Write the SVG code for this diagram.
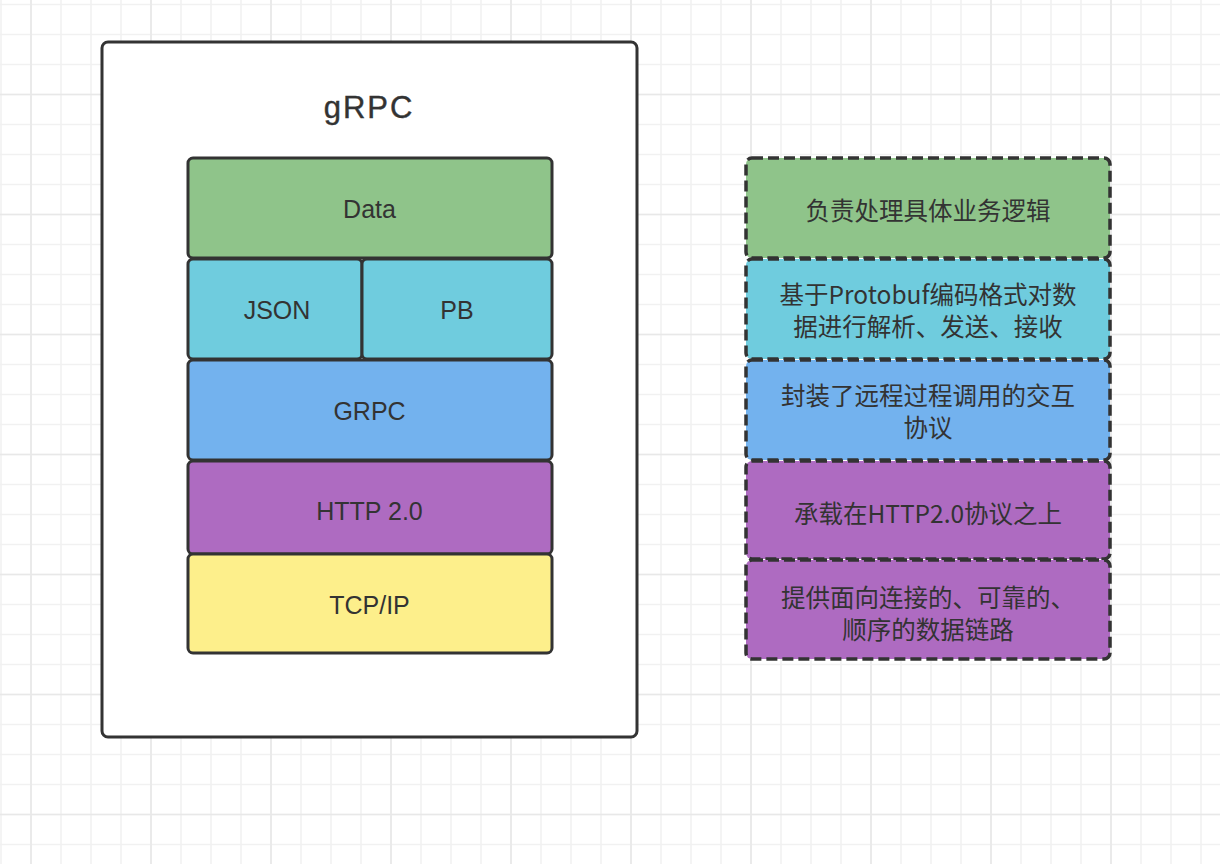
<svg xmlns="http://www.w3.org/2000/svg" width="1220" height="864" viewBox="0 0 1220 864">
  <defs>
    <pattern id="gMinor" width="30" height="30" patternUnits="userSpaceOnUse">
      <path d="M1 0V30M0 4.5H30" stroke="#f1f1f1" stroke-width="1.5" fill="none"/>
    </pattern>
    <pattern id="gMajor" width="120" height="120" patternUnits="userSpaceOnUse">
      <path d="M31 0V120M0 94.5H120" stroke="#e8e8e8" stroke-width="1.5" fill="none"/>
    </pattern>
  </defs>
  <style>
    .box { stroke: #333333; stroke-width: 3; }
    .dash { stroke: #333333; stroke-width: 3.5; stroke-dasharray: 11 5; }
    .green { fill: #8fc48a; }
    .cyan { fill: #6fccde; }
    .blue { fill: #73b2ee; }
    .purple { fill: #ae6bc1; }
    .yellow { fill: #fdef8b; }
    .lbl { font-family: "Liberation Sans", "Noto Sans CJK SC", sans-serif; font-size: 25px; fill: #333333; text-anchor: middle; dominant-baseline: central; }
    .cjk { font-family: "Noto Sans CJK SC", "Liberation Sans", sans-serif; font-size: 24.5px; fill: #333333; text-anchor: middle; dominant-baseline: central; }
    .title { font-family: "Liberation Sans", sans-serif; font-size: 31px; fill: #333333; text-anchor: middle; letter-spacing: 2px; stroke: #333333; stroke-width: 0.4; }
  </style>
  <rect width="1220" height="864" fill="#ffffff"/>
  <rect width="1220" height="864" fill="url(#gMinor)"/>
  <rect width="1220" height="864" fill="url(#gMajor)"/>

  <g id="grpc-container">
    <rect x="102" y="42" width="535" height="695" rx="6" fill="#ffffff" class="box"/>
    <text x="369" y="118" class="title">gRPC</text>
  </g>

  <g id="data">
    <rect x="188" y="158" width="364" height="100" rx="5" class="box green"/>
    <text x="369.5" y="209" class="lbl">Data</text>
  </g>
  <g id="json">
    <rect x="188" y="259" width="174" height="100" rx="5" class="box cyan"/>
    <text x="277" y="310" class="lbl">JSON</text>
  </g>
  <g id="pb">
    <rect x="362" y="259" width="190" height="100" rx="5" class="box cyan"/>
    <text x="457" y="310" class="lbl">PB</text>
  </g>
  <g id="grpc">
    <rect x="188" y="360" width="364" height="100" rx="5" class="box blue"/>
    <text x="369.5" y="411" class="lbl">GRPC</text>
  </g>
  <g id="http2">
    <rect x="188" y="461" width="364" height="93" rx="5" class="box purple"/>
    <text x="369.5" y="511" class="lbl">HTTP 2.0</text>
  </g>
  <g id="tcpip">
    <rect x="188" y="554" width="364" height="99" rx="5" class="box yellow"/>
    <text x="369.5" y="605" class="lbl">TCP/IP</text>
  </g>

  <g id="desc-data">
    <rect x="746" y="158" width="364" height="100" rx="6" class="dash green"/>
    <text x="928" y="209" class="cjk">负责处理具体业务逻辑</text>
  </g>
  <g id="desc-codec">
    <rect x="746" y="259" width="364" height="100" rx="6" class="dash cyan"/>
    <text x="928" y="293" class="cjk">基于Protobuf编码格式对数</text>
    <text x="928" y="325" class="cjk">据进行解析、发送、接收</text>
  </g>
  <g id="desc-grpc">
    <rect x="746" y="360" width="364" height="100" rx="6" class="dash blue"/>
    <text x="928" y="394" class="cjk">封装了远程过程调用的交互</text>
    <text x="928" y="426" class="cjk">协议</text>
  </g>
  <g id="desc-http2">
    <rect x="746" y="461" width="364" height="98" rx="6" class="dash purple"/>
    <text x="928" y="512" class="cjk">承载在HTTP2.0协议之上</text>
  </g>
  <g id="desc-tcpip">
    <rect x="746" y="560" width="364" height="99" rx="6" class="dash purple"/>
    <text x="928" y="596" class="cjk">提供面向连接的、可靠的、</text>
    <text x="928" y="628" class="cjk">顺序的数据链路</text>
  </g>

  <g id="connectors"></g>
</svg>
